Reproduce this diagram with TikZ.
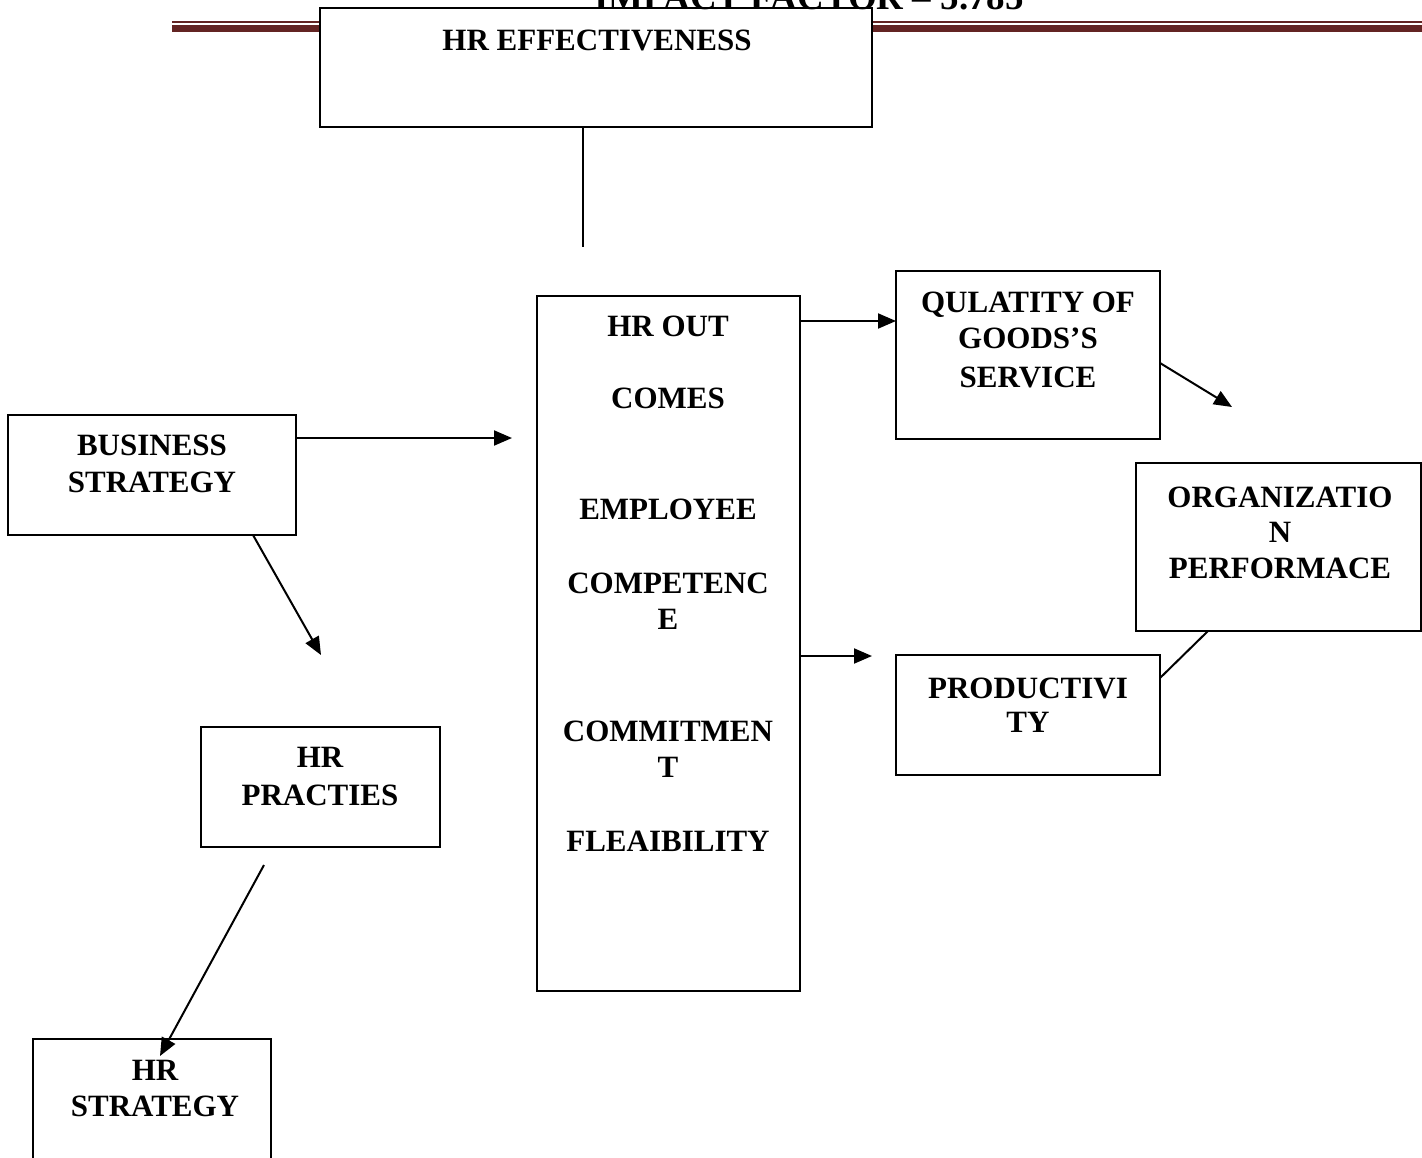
\documentclass[tikz,border=0pt]{standalone}
\usepackage{fontspec}
\setmainfont{Liberation Serif}
\usetikzlibrary{arrows.meta,calc}
\definecolor{hdrred}{RGB}{99,36,35}
\begin{document}
\begin{tikzpicture}[x=1pt,y=-1pt,
  box/.style={draw=black,line width=2pt,fill=white,inner sep=0pt,outer sep=0pt,anchor=north west},
  lbl/.style={anchor=base,inner sep=0pt,font=\bfseries\fontsize{31}{36}\selectfont},
  arr/.style={line width=2pt,-{Triangle[length=18pt,width=15pt]}},
  conn/.style={line width=2pt}]
\useasboundingbox (0,0) rectangle (1422,1157);
% header
\fill[hdrred] (172,20.5) rectangle (1422,22.5);
\fill[hdrred] (172,25) rectangle (1422,32);
% boxes
\node[box,minimum width=552pt,minimum height=119pt] (eff) at (320,8) {};
\node[anchor=base,inner sep=0pt,font=\bfseries\fontsize{37}{40}\selectfont] (hdr) at (809,9) {IMPACT FACTOR – 5.785};
\node[box,minimum width=263pt,minimum height=695pt] (out) at (537,296) {};
\node[box,minimum width=264pt,minimum height=168pt] (qual) at (896,271) {};
\node[box,minimum width=285pt,minimum height=168pt] (org) at (1136,463) {};
\node[box,minimum width=264pt,minimum height=120pt] (prod) at (896,655) {};
\node[box,minimum width=288pt,minimum height=120pt] (bus) at (8,415) {};
\node[box,minimum width=239pt,minimum height=120pt] (prac) at (201,727) {};
\node[box,minimum width=238pt,minimum height=160pt] (hrs) at (33,1039) {};
% texts
\node[lbl] (teff) at (597,50) {HR EFFECTIVENESS};
\node[lbl] (to1) at (668,336) {HR OUT};
\node[lbl] (to2) at (668,408) {COMES};
\node[lbl] (to3) at (668,519) {EMPLOYEE};
\node[lbl] (to4) at (668,593) {COMPETENC};
\node[lbl] (to5) at (668,629) {E};
\node[lbl] (to6) at (668,741) {COMMITMEN};
\node[lbl] (to7) at (668,777) {T};
\node[lbl] (to8) at (668,851) {FLEAIBILITY};
\node[lbl] (tq1) at (1028,312) {QULATITY OF};
\node[lbl] (tq2) at (1028,348) {GOODS’S};
\node[lbl] (tq3) at (1028,387) {SERVICE};
\node[lbl] (tg1) at (1280,507) {ORGANIZATIO};
\node[lbl] (tg2) at (1280,542) {N};
\node[lbl] (tg3) at (1280,578) {PERFORMACE};
\node[lbl] (tp1) at (1028,698) {PRODUCTIVI};
\node[lbl] (tp2) at (1028,732) {TY};
\node[lbl] (tb1) at (152,455) {BUSINESS};
\node[lbl] (tb2) at (152,492) {STRATEGY};
\node[lbl] (tr1) at (320,767) {HR};
\node[lbl] (tr2) at (320,805) {PRACTIES};
\node[lbl] (ts1) at (155,1080) {HR};
\node[lbl] (ts2) at (155,1116) {STRATEGY};
% free ends
\coordinate (effend) at (583,247);
\coordinate (busend) at (512,438);
\coordinate (pracend) at (321,655);
\coordinate (pracstart) at ($(prac.south west)+(63,18)$);
\coordinate (hrsend) at ($(hrs.north west)+(127,17)$);
\coordinate (prodend) at (872,656);
\coordinate (orgend) at (1232,407);
\coordinate (qy) at (0,321);
\coordinate (qs) at (0,363);
\coordinate (py) at (0,678);
\coordinate (ox) at (1208,0);
\coordinate (bx) at (253,0);
% connectors
\draw[conn] (eff.south -| effend) -- (effend);
\draw[arr] (busend -| bus.east) -- (busend);
\draw[arr] (bx |- bus.south) -- (pracend);
\draw[arr] (pracstart) -- (hrsend);
\draw[arr] (qy -| out.east) -- (qy -| qual.west);
\draw[arr] (prodend -| out.east) -- (prodend);
\draw[arr] (qs -| qual.east) -- (orgend);
\draw[conn] (py -| prod.east) -- (ox |- org.south);
\end{tikzpicture}
\end{document}
